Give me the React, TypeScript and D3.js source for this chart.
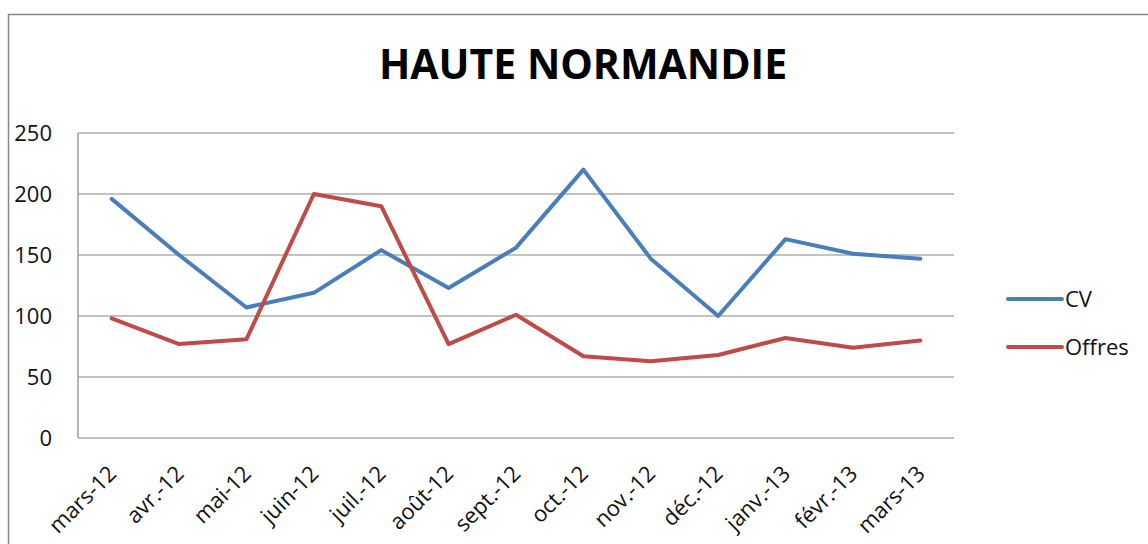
import React from 'react';
import * as d3 from 'd3';

const months = [
  'mars-12', 'avr.-12', 'mai-12', 'juin-12', 'juil.-12', 'août-12', 'sept.-12',
  'oct.-12', 'nov.-12', 'déc.-12', 'janv.-13', 'févr.-13', 'mars-13',
];
const cvValues = [196, 150, 107, 119, 154, 123, 156, 220, 147, 100, 163, 151, 147];
const offresValues = [98, 77, 81, 200, 190, 77, 101, 67, 63, 68, 82, 74, 80];
const yTicks = [0, 50, 100, 150, 200, 250];

const series = [
  { name: 'CV', values: cvValues, color: '#4A7EBB' },
  { name: 'Offres', values: offresValues, color: '#BE4B48' },
];

const W = 1148;
const H = 544;
const left = 78;
const right = 954;
const top = 133;
const bottom = 438;
const font = "'Open Sans', 'Liberation Sans', sans-serif";

const App: React.FC = () => {
  const x = d3.scaleBand<string>().domain(months).range([left, right]);
  const y = d3.scaleLinear().domain([0, 250]).range([bottom, top]);
  const line = d3
    .line<number>()
    .x((_, i) => (x(months[i]) as number) + x.bandwidth() / 2)
    .y((d) => y(d));

  return (
    <svg
      width={W}
      height={H}
      style={{ position: 'absolute', left: 0, top: 0, background: '#fff' }}
    >
      <rect x={8.5} y={14.5} width={W + 20} height={H + 20} fill="#fff" stroke="#868686" strokeWidth={1.5} />
      <text
        x={583}
        y={79}
        textAnchor="middle"
        fontFamily={font}
        fontWeight="bold"
        fontSize={41}
        fill="#000"
      >
        HAUTE NORMANDIE
      </text>

      {yTicks.map((t) => (
        <g key={t}>
          <line x1={left} x2={right} y1={y(t)} y2={y(t)} stroke="#868686" strokeWidth={1.2} />
          <text
            x={52}
            y={y(t)}
            dy="0.35em"
            textAnchor="end"
            fontFamily={font}
            fontSize={22}
            fill="#111"
          >
            {t}
          </text>
        </g>
      ))}
      <line x1={left} x2={left} y1={top} y2={bottom} stroke="#868686" strokeWidth={1.2} />

      {months.map((m) => {
        const cx = (x(m) as number) + x.bandwidth() / 2;
        return (
          <text
            key={m}
            transform={`translate(${cx + 6},${475}) rotate(-45)`}
            textAnchor="end"
            fontFamily={font}
            fontSize={22}
            fill="#111"
          >
            {m}
          </text>
        );
      })}

      {series.map((s) => (
        <path
          key={s.name}
          d={line(s.values) ?? ''}
          fill="none"
          stroke={s.color}
          strokeWidth={4}
          strokeLinejoin="round"
          strokeLinecap="round"
        />
      ))}

      {series.map((s, i) => (
        <g key={s.name} transform={`translate(1008,${299 + i * 48})`}>
          <line x1={0} x2={54} y1={0} y2={0} stroke={s.color} strokeWidth={4} strokeLinecap="round" />
          <text x={57} y={0} dy="0.35em" fontFamily={font} fontSize={22} fill="#111">
            {s.name}
          </text>
        </g>
      ))}
    </svg>
  );
};

export default App;
